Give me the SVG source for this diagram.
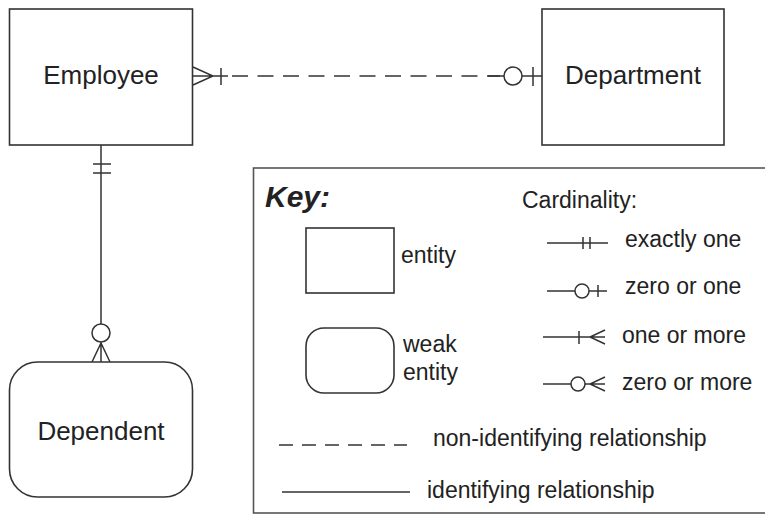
<svg xmlns="http://www.w3.org/2000/svg" width="765" height="515" viewBox="0 0 765 515">
<style>
.box{fill:#fff;stroke:#333;stroke-width:1.6}
.ln{fill:none;stroke:#333;stroke-width:1.5}
.dash{fill:none;stroke:#333;stroke-width:1.5;stroke-dasharray:14 9}
.t{font-family:"Liberation Sans",Arial,sans-serif;fill:#222}
.name{font-size:26px}
.lbl{font-size:23px}
</style>
<rect width="765" height="515" fill="#fff"/>
<g id="connectors">
  <!-- Employee - Department -->
  <path class="ln" d="M193 67 L213 76 L193 85 M193 76 H228 M221 68 V85"/>
  <line class="dash" x1="232" y1="76" x2="500" y2="76" style="stroke-dasharray:16 9.5"/>
  <path class="ln" d="M488 76 H504 M522 76 H542 M533 67 V86"/>
  <circle class="ln" cx="513" cy="76" r="9"/>
  <!-- Employee - Dependent -->
  <path class="ln" d="M101 145 V324 M93 164 H111 M93 173 H111"/>
  <circle class="ln" cx="101" cy="333" r="9"/>
  <path class="ln" d="M101 342 V362 M92 362 L101 343 L110 362"/>
</g>
<g id="employee">
  <rect class="box" x="9.5" y="9" width="183" height="136"/>
  <text class="t name" x="101" y="84" text-anchor="middle">Employee</text>
</g>
<g id="department">
  <rect class="box" x="542" y="9" width="182" height="136"/>
  <text class="t name" x="633" y="84" text-anchor="middle">Department</text>
</g>
<g id="dependent">
  <rect class="box" x="9.5" y="362" width="183" height="135" rx="28" ry="28"/>
  <text class="t name" x="101" y="440" text-anchor="middle">Dependent</text>
</g>
<g id="key">
  <rect class="box" x="253.5" y="168" width="520" height="345" style="stroke:#555"/>
  <text class="t" x="265" y="207" font-size="30" font-weight="bold" font-style="italic">Key:</text>
  <text class="t lbl" x="522" y="208">Cardinality:</text>
  <rect class="box" x="306" y="228" width="88" height="65"/>
  <text class="t lbl" x="401" y="263">entity</text>
  <rect class="box" x="306" y="328" width="88" height="65" rx="18" ry="18"/>
  <text class="t lbl" x="403" y="352">weak</text>
  <text class="t lbl" x="403" y="380">entity</text>
  <!-- exactly one -->
  <path class="ln" d="M547 243 H608 M583 237 V249 M590 237 V249"/>
  <text class="t lbl" x="625" y="247">exactly one</text>
  <!-- zero or one -->
  <path class="ln" d="M547 291 H575 M589 291 H607 M598 285 V297"/>
  <circle class="ln" cx="582" cy="291" r="7"/>
  <text class="t lbl" x="625" y="294">zero or one</text>
  <!-- one or more -->
  <path class="ln" d="M543 337 H605 M579 331 V344 M605 330 L590 337 L605 344"/>
  <text class="t lbl" x="622" y="343">one or more</text>
  <!-- zero or more -->
  <path class="ln" d="M543 384 H571 M585 384 H605 M605 377 L590 384 L605 391"/>
  <circle class="ln" cx="578" cy="384" r="7"/>
  <text class="t lbl" x="622" y="390">zero or more</text>
  <line class="dash" x1="279" y1="445" x2="407" y2="445"/>
  <text class="t lbl" x="433" y="446">non-identifying relationship</text>
  <line class="ln" x1="282" y1="492" x2="410" y2="492"/>
  <text class="t lbl" x="427" y="498">identifying relationship</text>
</g>
</svg>
